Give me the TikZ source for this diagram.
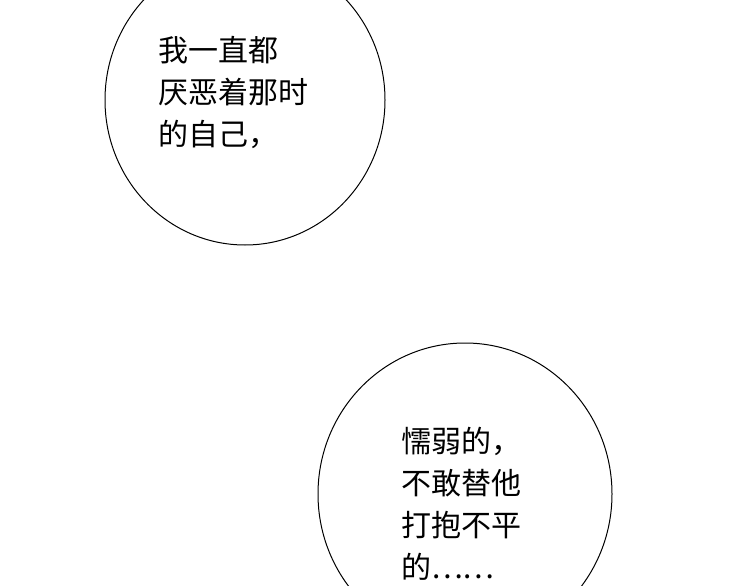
\documentclass[tikz,border=0pt]{standalone}
\usepackage{fontspec}
\newfontfamily\cjk{Noto Sans CJK SC}
\begin{document}
\begin{tikzpicture}[x=1pt,y=-1pt,
  bubble/.style={draw=black,line width=1pt,fill=white},
  speech/.style={anchor=north west,inner sep=0pt,align=left,font=\cjk\fontsize{30}{42}\selectfont}]
\useasboundingbox (0,0) rectangle (750,586);
\clip (0,0) rectangle (750,586);
\fill[white] (0,0) rectangle (750,586);
\draw[bubble] (245,100) ellipse [x radius=140, y radius=145];
\draw[bubble] (465,494) ellipse [x radius=147, y radius=151];
\node[speech] (t1) at (158,36) {我一直都\\厌恶着那时\\的自己，};
\node[speech] (t2) at (401,427) {懦弱的，\\不敢替他\\打抱不平\\的……};
\end{tikzpicture}
\end{document}
